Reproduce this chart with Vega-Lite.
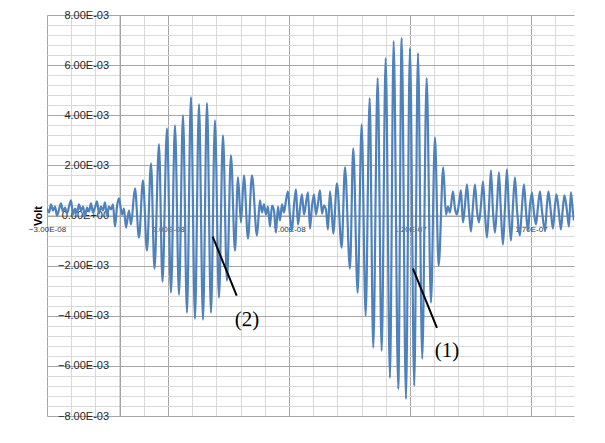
{
  "$schema": "https://vega.github.io/schema/vega-lite/v6.json",
  "width": 527,
  "height": 401,
  "autosize": {"type": "none"},
  "padding": {"left": 47, "top": 15, "right": 31, "bottom": 27},
  "background": "white",
  "config": {"view": {"stroke": null}},
  "datasets": {
    "signal": [
      {"t": -30.0, "v": 0.28}, {"t": -29.17, "v": 0.12}, {"t": -28.35, "v": 0.44}, {"t": -27.52, "v": 0.2},
      {"t": -26.69, "v": 0.36}, {"t": -25.87, "v": 0.0}, {"t": -25.04, "v": 0.24}, {"t": -24.21, "v": 0.48},
      {"t": -23.39, "v": 0.16}, {"t": -22.56, "v": 0.32}, {"t": -21.74, "v": 0.08}, {"t": -20.91, "v": 0.36},
      {"t": -20.08, "v": 0.6}, {"t": -19.26, "v": 0.04}, {"t": -18.43, "v": 0.28}, {"t": -17.6, "v": 0.12},
      {"t": -16.78, "v": 0.44}, {"t": -15.95, "v": 0.2}, {"t": -15.12, "v": 0.36}, {"t": -14.3, "v": -0.04},
      {"t": -13.47, "v": 0.32}, {"t": -12.64, "v": 0.16}, {"t": -11.82, "v": 0.48}, {"t": -10.99, "v": 0.12},
      {"t": -10.17, "v": 0.32}, {"t": -9.34, "v": 0.56}, {"t": -8.51, "v": 0.08}, {"t": -7.69, "v": 0.36},
      {"t": -6.86, "v": 0.2}, {"t": -6.03, "v": 0.52}, {"t": -5.21, "v": 0.0}, {"t": -4.38, "v": 0.36},
      {"t": -3.55, "v": 0.24}, {"t": -2.73, "v": 0.44}, {"t": -1.9, "v": -0.44}, {"t": -1.07, "v": 0.36},
      {"t": -0.25, "v": 0.68}, {"t": 0.99, "v": 0.04}, {"t": 1.82, "v": 0.28}, {"t": 2.64, "v": -0.48},
      {"t": 3.88, "v": 0.2}, {"t": 4.71, "v": -0.36},
      {"t": 6.36, "v": 1.08}, {"t": 8.02, "v": -0.88}, {"t": 9.67, "v": 1.4}, {"t": 11.32, "v": -1.4},
      {"t": 12.98, "v": 2.08}, {"t": 14.42, "v": -2.12}, {"t": 16.28, "v": 2.84}, {"t": 17.73, "v": -2.64},
      {"t": 19.59, "v": 3.48}, {"t": 21.24, "v": -3.08}, {"t": 22.89, "v": 3.6}, {"t": 24.55, "v": -3.16},
      {"t": 26.2, "v": 4.0}, {"t": 27.85, "v": -3.88}, {"t": 29.5, "v": 4.72}, {"t": 31.16, "v": -4.12},
      {"t": 32.81, "v": 4.44}, {"t": 34.46, "v": -4.16}, {"t": 36.12, "v": 4.48}, {"t": 37.77, "v": -3.88},
      {"t": 39.42, "v": 3.8}, {"t": 41.07, "v": -3.28}, {"t": 42.73, "v": 3.2}, {"t": 44.38, "v": -2.6},
      {"t": 46.03, "v": 2.4}, {"t": 47.69, "v": -1.4}, {"t": 48.93, "v": 1.52}, {"t": 50.17, "v": -0.28},
      {"t": 51.4, "v": 1.6}, {"t": 53.06, "v": -0.92}, {"t": 54.71, "v": 1.6}, {"t": 56.78, "v": -0.8},
      {"t": 58.02, "v": 0.6}, {"t": 58.84, "v": 0.12}, {"t": 59.67, "v": 0.44}, {"t": 60.5, "v": 0.04},
      {"t": 61.32, "v": 0.36}, {"t": 62.15, "v": -0.44}, {"t": 62.98, "v": 0.4}, {"t": 63.8, "v": 0.2},
      {"t": 64.63, "v": -0.68}, {"t": 65.45, "v": 0.36}, {"t": 66.28, "v": -0.2}, {"t": 67.11, "v": 0.44},
      {"t": 67.93, "v": 0.12}, {"t": 68.76, "v": 0.6}, {"t": 69.59, "v": 0.96}, {"t": 70.41, "v": 0.0},
      {"t": 71.24, "v": -0.6}, {"t": 72.07, "v": 0.4}, {"t": 72.89, "v": 1.04}, {"t": 73.72, "v": -0.36},
      {"t": 74.55, "v": 0.28}, {"t": 75.37, "v": 0.84}, {"t": 76.2, "v": 0.04}, {"t": 77.02, "v": 0.48},
      {"t": 77.85, "v": 0.92}, {"t": 78.68, "v": -0.52}, {"t": 79.5, "v": 0.36}, {"t": 80.33, "v": 0.84},
      {"t": 81.16, "v": 0.04}, {"t": 81.98, "v": 0.48}, {"t": 82.81, "v": 1.0}, {"t": 83.64, "v": 0.08},
      {"t": 84.46, "v": 0.4}, {"t": 85.29, "v": 0.24}, {"t": 86.12, "v": -0.56}, {"t": 86.94, "v": 0.96},
      {"t": 87.77, "v": 0.0},
      {"t": 88.31, "v": -0.72}, {"t": 89.83, "v": 1.28}, {"t": 91.78, "v": -1.28}, {"t": 93.14, "v": 1.92},
      {"t": 95.21, "v": -2.12}, {"t": 96.57, "v": 2.68}, {"t": 98.39, "v": -3.08}, {"t": 100.04, "v": 3.64},
      {"t": 101.69, "v": -4.0}, {"t": 103.35, "v": 4.68}, {"t": 104.83, "v": -5.28}, {"t": 106.65, "v": 5.48},
      {"t": 108.31, "v": -5.4}, {"t": 109.96, "v": 6.28}, {"t": 111.74, "v": -6.48}, {"t": 113.26, "v": 6.96},
      {"t": 115.17, "v": -6.92}, {"t": 116.57, "v": 7.08}, {"t": 118.35, "v": -7.32}, {"t": 120.0, "v": 6.68},
      {"t": 121.78, "v": -6.8}, {"t": 123.31, "v": 6.48}, {"t": 125.08, "v": -5.72}, {"t": 126.9, "v": 5.48},
      {"t": 128.68, "v": -3.48}, {"t": 130.33, "v": 3.12}, {"t": 131.86, "v": -2.0}, {"t": 133.76, "v": 1.92},
      {"t": 134.88, "v": 0.04}, {"t": 135.7, "v": 0.36}, {"t": 136.53, "v": 0.12}, {"t": 137.77, "v": 0.96},
      {"t": 138.6, "v": 0.28}, {"t": 139.42, "v": 0.04}, {"t": 140.25, "v": 0.48}, {"t": 141.07, "v": 1.0},
      {"t": 141.9, "v": -0.28}, {"t": 142.73, "v": 0.4}, {"t": 143.55, "v": 1.24}, {"t": 144.38, "v": 0.2},
      {"t": 145.21, "v": -0.64}, {"t": 146.03, "v": 0.36}, {"t": 146.86, "v": 1.24}, {"t": 147.69, "v": 0.2},
      {"t": 148.51, "v": -0.28}, {"t": 149.34, "v": 0.4}, {"t": 150.17, "v": 1.36}, {"t": 150.99, "v": 0.12},
      {"t": 151.82, "v": -0.88}, {"t": 152.64, "v": 0.28}, {"t": 153.47, "v": 1.8}, {"t": 154.3, "v": 0.2},
      {"t": 155.12, "v": -0.68}, {"t": 155.95, "v": 0.36}, {"t": 156.78, "v": 1.72}, {"t": 157.6, "v": 0.12},
      {"t": 158.43, "v": -1.16}, {"t": 159.26, "v": 0.28}, {"t": 160.08, "v": 1.84}, {"t": 160.91, "v": 0.12},
      {"t": 161.74, "v": -1.0}, {"t": 162.56, "v": 0.36}, {"t": 163.39, "v": 1.52}, {"t": 164.21, "v": 0.28},
      {"t": 165.45, "v": -0.8}, {"t": 166.28, "v": 0.32}, {"t": 167.11, "v": 1.24}, {"t": 167.93, "v": 0.2},
      {"t": 168.76, "v": -0.6}, {"t": 169.59, "v": 0.36}, {"t": 170.41, "v": 0.92}, {"t": 171.24, "v": 0.12},
      {"t": 172.07, "v": -0.36}, {"t": 172.89, "v": 0.32}, {"t": 173.72, "v": 0.96}, {"t": 174.55, "v": 0.2},
      {"t": 175.79, "v": -0.6}, {"t": 176.61, "v": 0.4}, {"t": 177.23, "v": 0.96}, {"t": 178.26, "v": 0.12},
      {"t": 179.09, "v": -0.52}, {"t": 179.92, "v": 0.36}, {"t": 180.54, "v": 0.84}, {"t": 181.57, "v": 0.12},
      {"t": 182.4, "v": -0.56}, {"t": 183.22, "v": 0.32}, {"t": 183.84, "v": 0.8}, {"t": 184.88, "v": 0.2},
      {"t": 185.7, "v": -0.44}, {"t": 186.53, "v": 0.92}, {"t": 187.36, "v": 0.12}, {"t": 187.77, "v": -0.2}
    ],
    "leaders": [
      {"t": 38.47, "v": -0.84, "t2": 48.39, "v2": -3.2},
      {"t": 121.24, "v": -2.12, "t2": 131.16, "v2": -4.48}
    ],
    "labels": [
      {"t": 52.64, "v": -4.16, "label": "(2)"},
      {"t": 135.29, "v": -5.4, "label": "(1)"}
    ]
  },
  "encoding": {
    "x": {
      "field": "t",
      "type": "quantitative",
      "scale": {"domain": [-30, 187.8], "nice": false, "zero": false},
      "axis": {
        "values": [-30, -20, -10, 0, 10, 20, 30, 40, 50, 60, 70, 80, 90, 100, 110, 120, 130, 140, 150, 160, 170, 180],
        "offset": -200.5,
        "labelExpr": "(datum.value + 30) % 50 == 0 ? replace(replace(format(datum.value * 1e-9, '.2e'), 'e-', 'E-0'), 'e+', 'E+0') : ''",
        "labelFont": "Liberation Sans",
        "labelFontSize": 8,
        "labelColor": "#333333",
        "labelPadding": 10,
        "labelFlush": false,
        "labelOverlap": false,
        "ticks": false,
        "tickSize": 0,
        "domain": true,
        "domainColor": "#a0a0a0",
        "grid": true,
        "gridColor": {"condition": {"test": "(datum.value + 30) % 50 == 0 || datum.value == 0", "value": "#a6a6a6"}, "value": "#d9d9d9"},
        "title": null
      }
    },
    "y": {
      "field": "v",
      "type": "quantitative",
      "scale": {"domain": [-8, 8], "nice": false},
      "axis": {
        "values": [-8, -7.6, -7.2, -6.8, -6.4, -6, -5.6, -5.2, -4.8, -4.4, -4, -3.6, -3.2, -2.8, -2.4, -2, -1.6, -1.2, -0.8, -0.4, 0, 0.4, 0.8, 1.2, 1.6, 2, 2.4, 2.8, 3.2, 3.6, 4, 4.4, 4.8, 5.2, 5.6, 6, 6.4, 6.8, 7.2, 7.6, 8],
        "offset": -72.6,
        "labelExpr": "abs(datum.value / 2 - round(datum.value / 2)) < 0.01 ? replace(replace(format(datum.value * 1e-3, '.2e'), 'e-', 'E-0'), 'e+', 'E+0') : ''",
        "labelFont": "Liberation Sans",
        "labelFontSize": 11,
        "labelColor": "#262626",
        "labelPadding": 11,
        "labelOverlap": false,
        "ticks": false,
        "tickSize": 0,
        "domain": true,
        "domainColor": "#a0a0a0",
        "grid": true,
        "gridColor": {"condition": {"test": "abs(datum.value / 2 - round(datum.value / 2)) < 0.01", "value": "#a6a6a6"}, "value": "#d9d9d9"},
        "title": "Volt",
        "titleFont": "Liberation Sans",
        "titleFontSize": 11,
        "titleFontWeight": "bold",
        "titleColor": "#000000",
        "titlePadding": 14
      }
    }
  },
  "layer": [
    {
      "data": {"name": "signal"},
      "mark": {"type": "line", "color": "#4F81BD", "strokeWidth": 2.2, "interpolate": "monotone", "clip": true}
    },
    {
      "data": {"name": "leaders"},
      "mark": {"type": "rule", "color": "#000000", "strokeWidth": 2},
      "encoding": {"x2": {"field": "t2"}, "y2": {"field": "v2"}}
    },
    {
      "data": {"name": "labels"},
      "mark": {"type": "text", "font": "Liberation Serif", "fontSize": 21, "color": "#000000", "align": "center", "baseline": "middle"},
      "encoding": {"text": {"field": "label"}}
    }
  ]
}
